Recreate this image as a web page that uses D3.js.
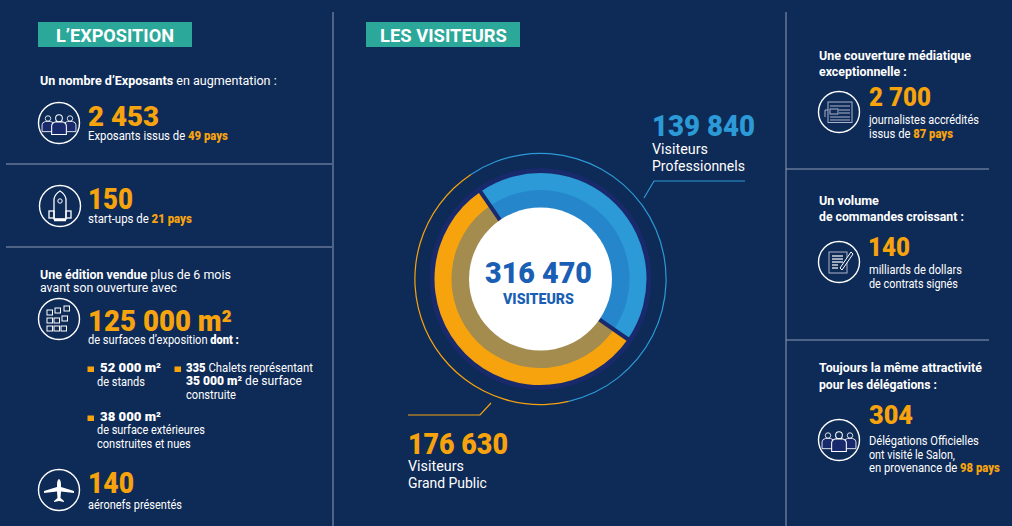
<!DOCTYPE html>
<html>

<head>
    <meta charset="utf-8">
    <style>
        html, body { margin: 0; padding: 0; background: #0e2a56; }
        svg { display: block; }
        text { font-family: Roboto, Arial, sans-serif; fill: #fff; }
    </style>
</head>

<body>
    <svg width="1012" height="526"></svg>

    <script src="https://d3js.org/d3.v7.min.js"></script>
    <script>
        // data
        const visitorCategories = ["Professionnels", "Grand Public"];
        const visitorValues = [139840, 176630];
        const exposants = 2453, exposantsPays = 49;
        const startups = 150, startupsPays = 21;
        const surfaceTotal = 125000;
        const surfaceParts = [52000, 35000, 38000];
        const chalets = 335;
        const aeronefs = 140;
        const journalistes = 2700, journalistesPays = 87;
        const milliards = 140;
        const delegations = 304, delegationsPays = 98;

        const orange = "#f7a30e", blue = "#2b9ad6", white = "#fff";
        const fmt = d3.formatLocale({ decimal: ",", thousands: " ", grouping: [3], currency: ["", ""] }).format(",d");

        const svg = d3.select("svg");
        svg.append("rect").attr("width", 1012).attr("height", 526).attr("fill", "#0e2a56");

        // writes one line made of [string, bold, colour] runs, squeezed to the wanted width
        function line(x, y, width, size, runs, heavy) {
            const t = svg.append("text")
                .attr("transform", `translate(${x},${y})`)
                .style("font-size", size + "px");
            runs.forEach(r => {
                t.append("tspan")
                    .text(r[0])
                    .style("font-weight", r[1] ? (heavy || 900) : 400)
                    .style("fill", r[2] || white);
            });
            const len = t.node().getComputedTextLength();
            t.attr("transform", `translate(${x},${y}) scale(${width / len},1)`);
            return t;
        }

        function big(x, y, width, size, str, colour) {
            return line(x, y, width, size, [[str, true, colour || orange]], 900);
        }

        // ---- rules
        const rules = [
            [333, 12, 333, 526], [786, 12, 786, 526],
            [6, 164, 332, 164], [6, 247, 332, 247],
            [786, 169, 989, 169], [786, 340, 989, 340]
        ];
        svg.append("g").selectAll("line").data(rules).join("line")
            .attr("x1", d => d[0]).attr("y1", d => d[1])
            .attr("x2", d => d[2]).attr("y2", d => d[3])
            .style("stroke", "#8f9cb5").style("stroke-width", 1);

        // ---- banners
        [[38, "L’EXPOSITION", 56, 118], [366, "LES VISITEURS", 380, 127]].forEach(b => {
            svg.append("rect").attr("x", b[0]).attr("y", 22).attr("width", 154).attr("height", 25).attr("fill", "#2ba899");
            line(b[2], 42, b[3], 18.5, [[b[1], true]], 700);
        });

        // ---- donut
        const cx = 540.5, cy = 279;
        const pie = d3.pie().sort(null)
            .startAngle(-34.5 * Math.PI / 180)
            .endAngle((360 - 34.5) * Math.PI / 180);
        const slices = pie(visitorValues);
        const donut = svg.append("g").attr("transform", `translate(${cx},${cy})`);

        donut.append("circle").attr("r", 111).attr("fill", "#182a6b");

        const outerArc = d3.arc().innerRadius(88).outerRadius(106);
        const innerArc = d3.arc().innerRadius(71).outerRadius(89);
        const outerColours = [blue, orange], innerColours = ["#2586cb", "#a38c4e"];

        donut.selectAll(".outer").data(slices).join("path")
            .attr("class", "outer").attr("d", outerArc).attr("fill", (d, i) => outerColours[i]);
        donut.selectAll(".inner").data(slices).join("path")
            .attr("class", "inner").attr("d", innerArc).attr("fill", (d, i) => innerColours[i]);

        // dark separators between the two slices
        const rad = d3.scaleLinear().domain([0, 1]).range([70, 111]);
        donut.selectAll(".sep").data(slices).join("line")
            .attr("class", "sep")
            .attr("x1", d => Math.sin(d.startAngle) * rad(0)).attr("y1", d => -Math.cos(d.startAngle) * rad(0))
            .attr("x2", d => Math.sin(d.startAngle) * rad(1)).attr("y2", d => -Math.cos(d.startAngle) * rad(1))
            .style("stroke", "#182a6b").style("stroke-width", 4);

        donut.append("circle").attr("r", 71.5).attr("fill", "#fff");

        // thin ring around the donut, its split is not the same as the slices
        const thin = d3.arc().innerRadius(125).outerRadius(126.2);
        const d2r = Math.PI / 180;
        donut.append("path").attr("fill", blue).attr("d", thin({ startAngle: -33.6 * d2r, endAngle: 167 * d2r }));
        donut.append("path").attr("fill", orange).attr("d", thin({ startAngle: 167 * d2r, endAngle: 326.4 * d2r }));

        // leaders
        const leader = d3.line();
        svg.append("path").attr("d", leader([[644, 198], [654, 181], [745, 181]]))
            .style("fill", "none").style("stroke", blue).style("stroke-width", 1.2);
        svg.append("path").attr("d", leader([[491, 403], [480, 415], [408, 415]]))
            .style("fill", "none").style("stroke", orange).style("stroke-width", 1.2);

        big(485, 283, 107, 30, fmt(d3.sum(visitorValues)), "#1a5fb4");
        line(503, 304, 71, 14, [["VISITEURS", true, "#1a5fb4"]], 900);

        big(652, 136, 103, 30, fmt(visitorValues[0]), blue);
        line(652, 154, 56, 15, [["Visiteurs", false]]);
        line(652, 171, 93, 15, [[visitorCategories[0], false]]);

        big(408, 454, 100, 30, fmt(visitorValues[1]), orange);
        line(408, 471, 56, 15, [["Visiteurs", false]]);
        line(408, 488, 79, 15, [[visitorCategories[1], false]]);

        // ---- left column
        line(40, 85, 237, 13, [["Un nombre d’Exposants", true], [" en augmentation :", false]], 700);
        big(88, 126, 71, 28, fmt(exposants));
        line(88, 140, 140, 12, [["Exposants issus de ", false], [exposantsPays + " pays", true, orange]]);

        big(88, 209, 45, 29, String(startups));
        line(88, 223, 104, 12, [["start-ups de ", false], [startupsPays + " pays", true, orange]]);

        line(40, 279, 191, 13, [["Une édition vendue", true], [" plus de 6 mois", false]], 700);
        line(40, 292, 137, 13, [["avant son ouverture avec", false]]);

        big(88, 330.5, 144, 29, fmt(surfaceTotal) + " m²");
        line(88, 344, 151, 12, [["de surfaces d’exposition ", false], ["dont :", true]]);

        function bullet(x, y) {
            svg.append("rect").attr("x", x).attr("y", y).attr("width", 6.5).attr("height", 5.5).attr("fill", orange);
        }
        bullet(87.5, 366.5);
        line(100, 372, 61, 13, [[fmt(surfaceParts[0]) + " m²", true]]);
        line(97, 386, 48, 12, [["de stands", false]]);

        bullet(174.5, 366.5);
        line(186, 372, 127, 12, [[chalets + " ", true], ["Chalets représentant", false]]);
        line(186, 385, 116, 12, [[fmt(surfaceParts[1]) + " m² ", true], ["de surface", false]]);
        line(186, 399, 50, 12, [["construite", false]]);

        bullet(87.5, 415.5);
        line(100, 421, 61, 13, [[fmt(surfaceParts[2]) + " m²", true]]);
        line(97, 434, 108, 12, [["de surface extérieures", false]]);
        line(97, 448, 94, 12, [["construites et nues", false]]);

        big(88, 493, 46, 29, String(aeronefs));
        line(88, 509, 94, 12, [["aéronefs présentés", false]]);

        // ---- right column
        line(819, 60, 152, 13, [["Une couverture médiatique", true]], 700);
        line(819, 76, 88, 13, [["exceptionnelle :", true]], 700);
        big(869, 106, 62, 26, fmt(journalistes));
        line(869, 124, 110, 12, [["journalistes accrédités", false]]);
        line(869, 138, 84, 12, [["issus de ", false], [journalistesPays + " pays", true, orange]]);

        line(819, 205, 60, 13, [["Un volume", true]], 700);
        line(819, 221, 145, 13, [["de commandes croissant :", true]], 700);
        big(868, 256, 42, 26, String(milliards));
        line(869, 274, 93, 12, [["milliards de dollars", false]]);
        line(869, 288, 89, 12, [["de contrats signés", false]]);

        line(819, 372, 163, 13, [["Toujours la même attractivité", true]], 700);
        line(819, 389, 118, 13, [["pour les délégations :", true]], 700);
        big(869, 424, 44, 26, String(delegations));
        line(869, 445, 110, 12, [["Délégations Officielles", false]]);
        line(869, 459, 86, 12, [["ont visité le Salon,", false]]);
        line(869, 472, 131, 12, [["en provenance de ", false], [delegationsPays + " pays", true, orange]]);

        // ---- icons
        function badge(x, y) {
            const g = svg.append("g").attr("transform", `translate(${x},${y})`)
                .style("fill", "none").style("stroke", "#fff").style("stroke-width", 1);
            g.append("circle").attr("r", 20.5).style("stroke-width", 1.4);
            return g;
        }

        function person(g, x, y, s) {
            const p = g.append("g").attr("transform", `translate(${x},${y}) scale(${s})`);
            p.append("path").attr("d", "M-7,9 L-7,1 Q-7,-2 -3,-3 L3,-3 Q7,-2 7,1 L7,9 Z").style("fill", "#182a6b");
            p.append("circle").attr("cy", -6.5).attr("r", 3.2).style("fill", "#0e2a56");
        }

        function people(x, y) {
            const g = badge(x, y);
            person(g, -11, 1, 0.85);
            person(g, 11, 1, 0.85);
            person(g, 0, 2, 1.05);
        }
        people(59, 123);
        people(839, 440);

        // rocket
        const r = badge(60, 206);
        r.append("path").attr("d", "M-6,13 L-6,-7 Q-5,-12 0,-15 Q5,-12 6,-7 L6,13 Z").style("stroke-width", 1.3);
        r.append("path").attr("d", "M-6,14 L6,14").style("stroke-width", 2.5);
        r.append("circle").attr("cy", -5).attr("r", 2.2);
        r.append("rect").attr("x", -11).attr("y", 5).attr("width", 5).attr("height", 7).style("stroke-width", 1.3);
        r.append("rect").attr("x", 6).attr("y", 5).attr("width", 5).attr("height", 7).style("stroke-width", 1.3);

        // stands
        const c = badge(59, 319);
        const squares = [[-12, 7], [-5, 7], [2, 7], [-12, -1], [-5, -1], [3, -3], [-12, -9], [-4, -11], [5, -13]];
        c.selectAll("rect").data(squares).join("rect")
            .attr("x", d => d[0]).attr("y", d => d[1]).attr("width", 5.5).attr("height", 5);

        // plane
        const a = badge(59, 490);
        a.append("path")
            .attr("d", "M0,-11 Q2,-10 2,-5 L2,-3 L15,1 L15,3 L2,1.5 L1.5,8 L5,11 L5,12 L0,11 L-5,12 L-5,11 L-1.5,8 L-2,1.5 L-15,3 L-15,1 L-2,-3 L-2,-5 Q-2,-10 0,-11 Z")
            .style("fill", "#fff").style("stroke", "none");

        // journal
        const n = badge(839, 112);
        n.append("rect").attr("x", -11).attr("y", -10).attr("width", 24).attr("height", 20.5).style("stroke", "#aab4cc");
        n.append("rect").attr("x", -9).attr("y", -3).attr("width", 8).attr("height", 5).style("stroke", "#aab4cc");
        [-6, -2, 1, 5, 8].forEach(l => {
            n.append("line").attr("x1", l < 2 && l > -3 ? 0 : -9).attr("x2", 11).attr("y1", l).attr("y2", l).style("stroke", "#aab4cc");
        });
        n.append("path").attr("d", "M-11,-2 L-14,-2 L-14,5").style("stroke", "#aab4cc");

        // contrat
        const k = badge(839, 262);
        k.append("rect").attr("x", -10).attr("y", -10).attr("width", 18).attr("height", 21).style("stroke", "#aab4cc");
        [-6, -3, 0, 3, 6].forEach((l, i) => {
            k.append("line").attr("x1", -7).attr("x2", i > 2 ? -1 : 4).attr("y1", l).attr("y2", l).style("stroke-width", 1.2);
        });
        k.append("path").attr("d", "M1,6 L12,-10 L14,-8 L3,8 Z").style("fill", "#0e2a56");
    </script>
</body>

</html>
